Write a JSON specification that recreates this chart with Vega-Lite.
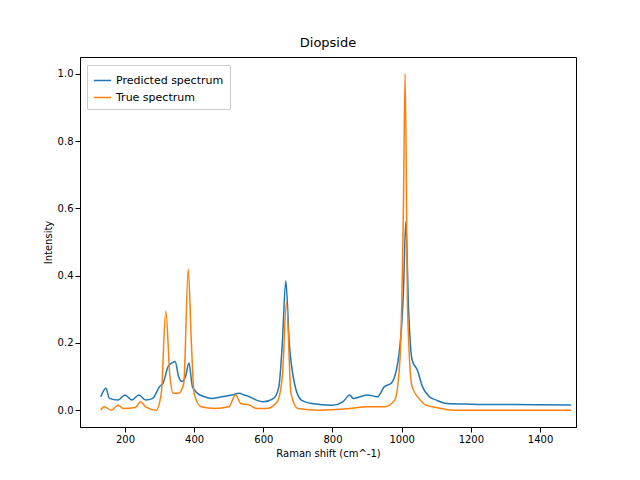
{"$schema":"https://vega.github.io/schema/vega-lite/v6.json","autosize":{"type":"none"},"padding":{"left":80,"top":57,"right":64,"bottom":53},"width":496,"height":370,"title":{"text":"Diopside","fontWeight":"normal","fontSize":13,"font":"DejaVu Sans","offset":7},
"config":{"font":"DejaVu Sans","axis":{"grid":false,"labelFontSize":10,"titleFontSize":10,"titleFontWeight":"normal","domainColor":"black","tickColor":"black","labelColor":"black"},"view":{"stroke":"black"}},
"data":{"values":[
{"s":"Predicted spectrum","x":130,"y":0.04},{"s":"Predicted spectrum","x":145,"y":0.065},{"s":"Predicted spectrum","x":155,"y":0.035},{"s":"Predicted spectrum","x":180,"y":0.03},{"s":"Predicted spectrum","x":200,"y":0.045},{"s":"Predicted spectrum","x":220,"y":0.03},{"s":"Predicted spectrum","x":240,"y":0.045},{"s":"Predicted spectrum","x":260,"y":0.03},{"s":"Predicted spectrum","x":280,"y":0.035},{"s":"Predicted spectrum","x":300,"y":0.07},{"s":"Predicted spectrum","x":310,"y":0.08},{"s":"Predicted spectrum","x":325,"y":0.13},{"s":"Predicted spectrum","x":335,"y":0.14},{"s":"Predicted spectrum","x":345,"y":0.145},{"s":"Predicted spectrum","x":355,"y":0.1},{"s":"Predicted spectrum","x":365,"y":0.085},{"s":"Predicted spectrum","x":375,"y":0.1},{"s":"Predicted spectrum","x":385,"y":0.14},{"s":"Predicted spectrum","x":395,"y":0.07},{"s":"Predicted spectrum","x":410,"y":0.05},{"s":"Predicted spectrum","x":430,"y":0.04},{"s":"Predicted spectrum","x":450,"y":0.035},{"s":"Predicted spectrum","x":480,"y":0.04},{"s":"Predicted spectrum","x":510,"y":0.045},{"s":"Predicted spectrum","x":530,"y":0.05},{"s":"Predicted spectrum","x":545,"y":0.045},{"s":"Predicted spectrum","x":560,"y":0.04},{"s":"Predicted spectrum","x":580,"y":0.03},{"s":"Predicted spectrum","x":600,"y":0.025},{"s":"Predicted spectrum","x":630,"y":0.035},{"s":"Predicted spectrum","x":645,"y":0.07},{"s":"Predicted spectrum","x":655,"y":0.2},{"s":"Predicted spectrum","x":665,"y":0.385},{"s":"Predicted spectrum","x":675,"y":0.2},{"s":"Predicted spectrum","x":690,"y":0.08},{"s":"Predicted spectrum","x":710,"y":0.03},{"s":"Predicted spectrum","x":740,"y":0.02},{"s":"Predicted spectrum","x":800,"y":0.015},{"s":"Predicted spectrum","x":830,"y":0.025},{"s":"Predicted spectrum","x":850,"y":0.045},{"s":"Predicted spectrum","x":860,"y":0.035},{"s":"Predicted spectrum","x":900,"y":0.045},{"s":"Predicted spectrum","x":930,"y":0.04},{"s":"Predicted spectrum","x":950,"y":0.07},{"s":"Predicted spectrum","x":970,"y":0.08},{"s":"Predicted spectrum","x":990,"y":0.15},{"s":"Predicted spectrum","x":1005,"y":0.35},{"s":"Predicted spectrum","x":1012,"y":0.56},{"s":"Predicted spectrum","x":1020,"y":0.3},{"s":"Predicted spectrum","x":1030,"y":0.15},{"s":"Predicted spectrum","x":1045,"y":0.12},{"s":"Predicted spectrum","x":1060,"y":0.07},{"s":"Predicted spectrum","x":1080,"y":0.04},{"s":"Predicted spectrum","x":1100,"y":0.03},{"s":"Predicted spectrum","x":1130,"y":0.02},{"s":"Predicted spectrum","x":1200,"y":0.018},{"s":"Predicted spectrum","x":1400,"y":0.016},{"s":"Predicted spectrum","x":1490,"y":0.015},
{"s":"True spectrum","x":130,"y":0.0},{"s":"True spectrum","x":140,"y":0.01},{"s":"True spectrum","x":160,"y":0.0},{"s":"True spectrum","x":180,"y":0.015},{"s":"True spectrum","x":195,"y":0.005},{"s":"True spectrum","x":230,"y":0.008},{"s":"True spectrum","x":245,"y":0.025},{"s":"True spectrum","x":260,"y":0.01},{"s":"True spectrum","x":290,"y":0.0},{"s":"True spectrum","x":305,"y":0.05},{"s":"True spectrum","x":318,"y":0.295},{"s":"True spectrum","x":330,"y":0.1},{"s":"True spectrum","x":340,"y":0.05},{"s":"True spectrum","x":355,"y":0.05},{"s":"True spectrum","x":370,"y":0.08},{"s":"True spectrum","x":383,"y":0.42},{"s":"True spectrum","x":392,"y":0.2},{"s":"True spectrum","x":400,"y":0.05},{"s":"True spectrum","x":420,"y":0.01},{"s":"True spectrum","x":460,"y":0.005},{"s":"True spectrum","x":500,"y":0.01},{"s":"True spectrum","x":520,"y":0.045},{"s":"True spectrum","x":535,"y":0.02},{"s":"True spectrum","x":560,"y":0.015},{"s":"True spectrum","x":580,"y":0.005},{"s":"True spectrum","x":610,"y":0.005},{"s":"True spectrum","x":640,"y":0.025},{"s":"True spectrum","x":655,"y":0.1},{"s":"True spectrum","x":667,"y":0.32},{"s":"True spectrum","x":680,"y":0.05},{"s":"True spectrum","x":700,"y":0.005},{"s":"True spectrum","x":760,"y":0.0},{"s":"True spectrum","x":850,"y":0.005},{"s":"True spectrum","x":900,"y":0.01},{"s":"True spectrum","x":950,"y":0.01},{"s":"True spectrum","x":980,"y":0.03},{"s":"True spectrum","x":995,"y":0.15},{"s":"True spectrum","x":1005,"y":0.6},{"s":"True spectrum","x":1010,"y":1.0},{"s":"True spectrum","x":1017,"y":0.3},{"s":"True spectrum","x":1030,"y":0.07},{"s":"True spectrum","x":1050,"y":0.035},{"s":"True spectrum","x":1070,"y":0.015},{"s":"True spectrum","x":1100,"y":0.008},{"s":"True spectrum","x":1150,"y":0.0},{"s":"True spectrum","x":1490,"y":0.0}
]},
"mark":{"type":"line","strokeWidth":1.5,"interpolate":"monotone"},
"encoding":{
"x":{"field":"x","type":"quantitative","title":"Raman shift (cm^-1)","scale":{"domain":[70,1504],"nice":false,"zero":false},"axis":{"values":[200,400,600,800,1000,1200,1400],"format":"d"}},
"y":{"field":"y","type":"quantitative","title":"Intensity","scale":{"domain":[-0.05,1.05],"nice":false},"axis":{"values":[0,0.2,0.4,0.6,0.8,1.0],"format":".1f"}},
"color":{"field":"s","type":"nominal","scale":{"range":["#1f77b4","#ff7f0e"]},"legend":{"title":null,"orient":"none","legendX":7,"legendY":8,"fillColor":"white","strokeColor":"#ccc","padding":6,"labelFontSize":11,"symbolType":"stroke","symbolSize":300}}
}}
